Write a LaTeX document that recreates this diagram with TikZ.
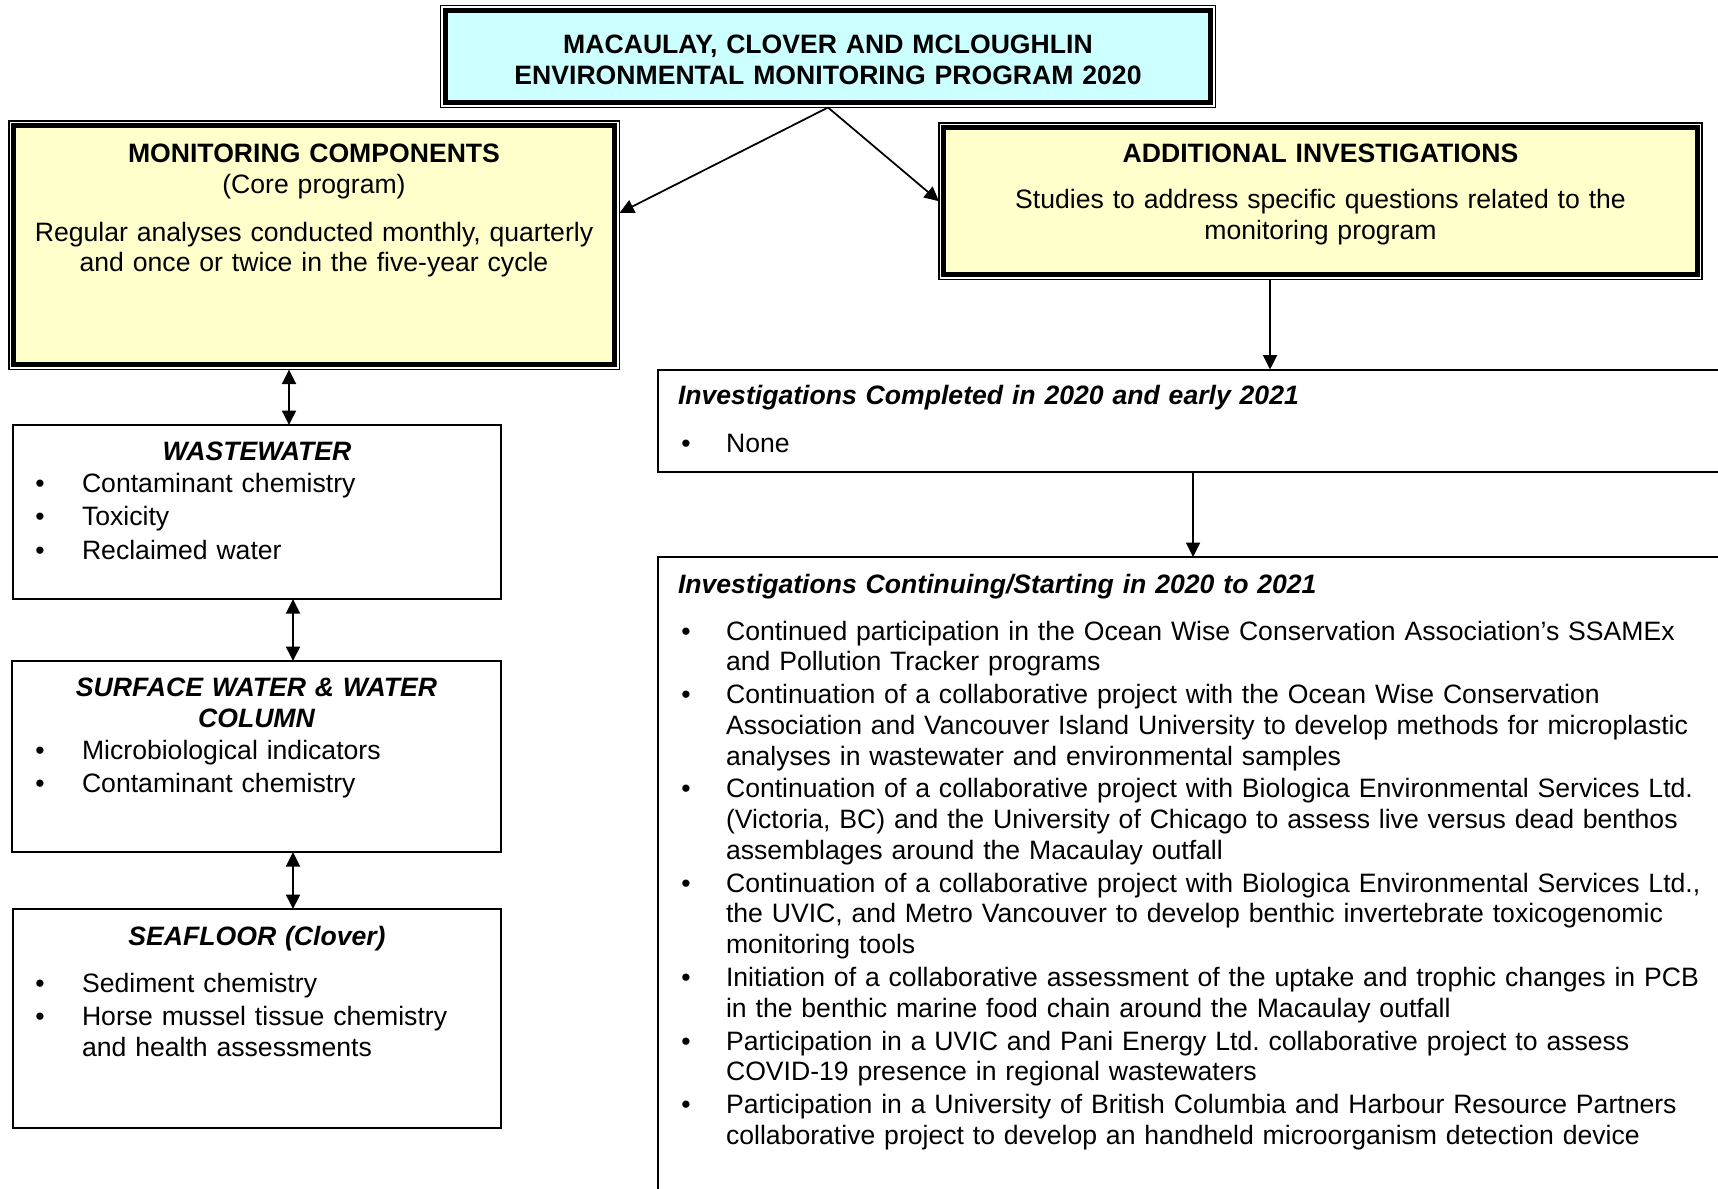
\documentclass[tikz,border=0pt]{standalone}
\usepackage{fontspec}
\setmainfont{Liberation Sans}
\usetikzlibrary{arrows.meta,fit,calc}
\definecolor{cyanfill}{HTML}{CCFFFF}
\definecolor{yelfill}{HTML}{FFFFCC}
\newcommand\fs{\fontsize{10.64}{12.28}\selectfont}
\newcommand\bul[2]{\noindent\hangindent=#1\hangafter=1\makebox[#1][l]{\textbullet}#2\par}
\begin{document}
\begin{tikzpicture}[x=0.4pt,y=-0.4pt,
  fb/.style={inner sep=0pt, outer sep=0pt},
  sbox/.style={fb, draw=black, line width=0.8pt},
  oframe/.style={fb, draw=black, line width=0.6pt},
  iframe/.style={draw=black, line width=1.9pt},
  ctext/.style={inner sep=0pt, outer sep=0pt, font=\fs, text width=280pt, align=center, anchor=north},
  ltext/.style={inner sep=0pt, outer sep=0pt, font=\fs, text width=470pt, align=left, anchor=north west},
  arr/.style={-{Triangle[length=5.8pt,width=5.6pt]}, line width=0.7pt},
  darr/.style={{Triangle[length=5.8pt,width=5.6pt]}-{Triangle[length=5.8pt,width=5.6pt]}, line width=0.75pt}
]
\useasboundingbox (0,0) rectangle (1718,1188);
\fill[white] (0,0) rectangle (1718,1188);
\clip (0,0) rectangle (1718,1188);

% ---------- top box ----------
\node[oframe, fit={(440.5,5.5) (1215.5,107.5)}] (top) {};
\filldraw[iframe, fill=cyanfill] ([shift={(5,5)}]top.north west) rectangle ([shift={(-5,-5)}]top.south east);
\node[ctext] (toptxt) at (828,32) {\strut\bfseries MACAULAY, CLOVER AND MCLOUGHLIN\\ ENVIRONMENTAL MONITORING PROGRAM 2020};

% ---------- left yellow ----------
\node[oframe, fit={(9,121) (619.5,369.5)}] (lefty) {};
\filldraw[iframe, fill=yelfill] ([shift={(4.8,4.8)}]lefty.north west) rectangle ([shift={(-4.8,-4.8)}]lefty.south east);
\node[ctext] (leftyt) at (314,141.5) {\strut\textbf{MONITORING COMPONENTS}\\ (Core program)};
\node[ctext] (leftyb) at (314,219.5) {\strut Regular analyses conducted monthly, quarterly\\ and once or twice in the five-year cycle};

% ---------- right yellow ----------
\node[oframe, fit={(939,123) (1702,279.5)}] (righty) {};
\filldraw[iframe, fill=yelfill] ([shift={(4.8,4.8)}]righty.north west) rectangle ([shift={(-4.8,-4.8)}]righty.south east);
\node[ctext] (rightyt) at (1320.5,141) {\strut\textbf{ADDITIONAL INVESTIGATIONS}};
\node[ctext] (rightyb) at (1320.5,187) {\strut Studies to address specific questions related to the\\ monitoring program};

% ---------- left column boxes ----------
\node[sbox, fit={(13,425) (501,599)}] (ww) {};
\node[ctext] (wwt) at (257,438.5) {\strut\bfseries\itshape WASTEWATER};
\node[ltext] (wwl) at (35.3,470.5) {\parskip=1.3pt
  \bul{18.7pt}{\strut Contaminant chemistry}
  \bul{18.7pt}{Toxicity}
  \bul{18.7pt}{Reclaimed water}};

\node[sbox, fit={(12,661) (501,852)}] (sw) {};
\node[ctext] (swt) at (256.5,675) {\strut\bfseries\itshape SURFACE WATER \& WATER\\ COLUMN};
\node[ltext] (swl) at (35.3,737.5) {\parskip=1.3pt
  \bul{18.7pt}{\strut Microbiological indicators}
  \bul{18.7pt}{Contaminant chemistry}};

\node[sbox, fit={(13,909) (501,1128)}] (sf) {};
\node[ctext] (sft) at (257,923.5) {\strut\bfseries\itshape SEAFLOOR (Clover)};
\node[ltext] (sfl) at (35.3,970.5) {\parskip=1.3pt
  \bul{18.7pt}{\strut Sediment chemistry}
  \bul{18.7pt}{Horse mussel tissue chemistry\newline and health assessments}};

% ---------- right column boxes ----------
\node[sbox, fit={(658,369.5) (1800,472)}] (comp) {};
\node[ltext] (compt) at (678,382.5) {\strut\bfseries\itshape Investigations Completed in 2020 and early 2021};
\node[ltext] (compl) at (681.3,430.5) {\bul{17.9pt}{\strut None}};

\node[sbox, fit={(658,557) (1800,1300)}] (cont) {};
\node[ltext] (contt) at (678,571.5) {\strut\bfseries\itshape Investigations Continuing/Starting in 2020 to 2021};
\node[ltext] (contl) at (681.3,618.5) {\parskip=0.88pt
  \bul{17.9pt}{\strut Continued participation in the Ocean Wise Conservation Association’s SSAMEx\newline and Pollution Tracker programs}
  \bul{17.9pt}{Continuation of a collaborative project with the Ocean Wise Conservation\newline Association and Vancouver Island University to develop methods for microplastic\newline analyses in wastewater and environmental samples}
  \bul{17.9pt}{Continuation of a collaborative project with Biologica Environmental Services Ltd.\newline (Victoria, BC) and the University of Chicago to assess live versus dead benthos\newline assemblages around the Macaulay outfall}
  \bul{17.9pt}{Continuation of a collaborative project with Biologica Environmental Services Ltd.,\newline the UVIC, and Metro Vancouver to develop benthic invertebrate toxicogenomic\newline monitoring tools}
  \bul{17.9pt}{Initiation of a collaborative assessment of the uptake and trophic changes in PCB\newline in the benthic marine food chain around the Macaulay outfall}
  \bul{17.9pt}{Participation in a UVIC and Pani Energy Ltd.\ collaborative project to assess\newline COVID-19 presence in regional wastewaters}
  \bul{17.9pt}{Participation in a University of British Columbia and Harbour Resource Partners\newline collaborative project to develop an handheld microorganism detection device}};

% ---------- connectors ----------
\coordinate (xa) at (1270,0);
\coordinate (xb) at (1193,0);
\coordinate (xc) at (289,0);
\coordinate (xd) at (293,0);
\draw[arr] (top.south) -- ([yshift=12.9pt]lefty.east);
\draw[arr] (top.south) -- (righty.west);
\draw[arr] (righty.south -| xa) -- (comp.north -| xa);
\draw[arr] (comp.south -| xb) -- (cont.north -| xb);
\draw[darr] (lefty.south -| xc) -- (ww.north -| xc);
\draw[darr] (ww.south -| xd) -- (sw.north -| xd);
\draw[darr] (sw.south -| xd) -- (sf.north -| xd);
\end{tikzpicture}
\end{document}
